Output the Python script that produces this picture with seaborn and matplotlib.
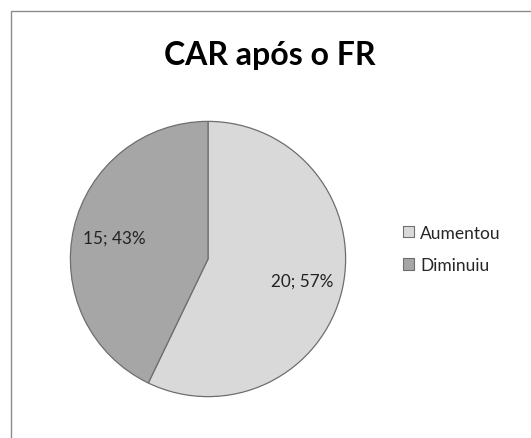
import matplotlib
matplotlib.use("Agg")
import matplotlib.pyplot as plt
import seaborn as sns
from matplotlib.patches import Rectangle, Patch

categories = ["Aumentou", "Diminuiu"]
values = [20, 15]
title = "CAR após o FR"

sns.set_theme(style="white")
plt.rcParams['font.family'] = ['Lato', 'DejaVu Sans']

colors = ["#D9D9D9", "#A6A6A6"]
edge = "#6E6E6E"

W, H = 531, 439
fig = plt.figure(figsize=(W / 100, H / 100), dpi=100)
fig.patch.set_facecolor("white")

# outer chart frame
fig.patches.append(Rectangle((11 / W, -0.05), 1.2, 1 - 12 / H + 0.05, transform=fig.transFigure,
                             fill=False, edgecolor="#8C8C8C", linewidth=1.0))

cx, cy, r = 208, H - 260, 139
ax = fig.add_axes([(cx - r) / W, (cy - r) / H, 2 * r / W, 2 * r / H])
total = sum(values)
wedges, texts, autotexts = ax.pie(
    values, colors=colors, startangle=90, counterclock=False,
    wedgeprops=dict(edgecolor=edge, linewidth=0.9),
    autopct=lambda p: f"{round(p * total / 100)}; {p:.0f}%",
    pctdistance=0.70, textprops=dict(fontsize=12.3, color="#222222"))
ax.set_xlim(-1.01, 1.01)
ax.set_ylim(-1.01, 1.01)
ax.set_aspect("equal")
ax.axis("off")

fig.text(270 / W, 1 - 55 / H, title, ha="center", va="center",
         fontsize=23, fontweight="bold", color="black")

handles = [Patch(facecolor=c, edgecolor=edge, linewidth=0.8) for c in colors]
fig.legend(handles, categories, loc="center left",
           bbox_to_anchor=(396 / W, 1 - 250 / H), frameon=False,
           fontsize=12.5, handlelength=0.65, handleheight=0.65,
           handletextpad=0.35, labelspacing=0.95, borderaxespad=0)

fig.savefig("out.png", dpi=100, facecolor="white")
